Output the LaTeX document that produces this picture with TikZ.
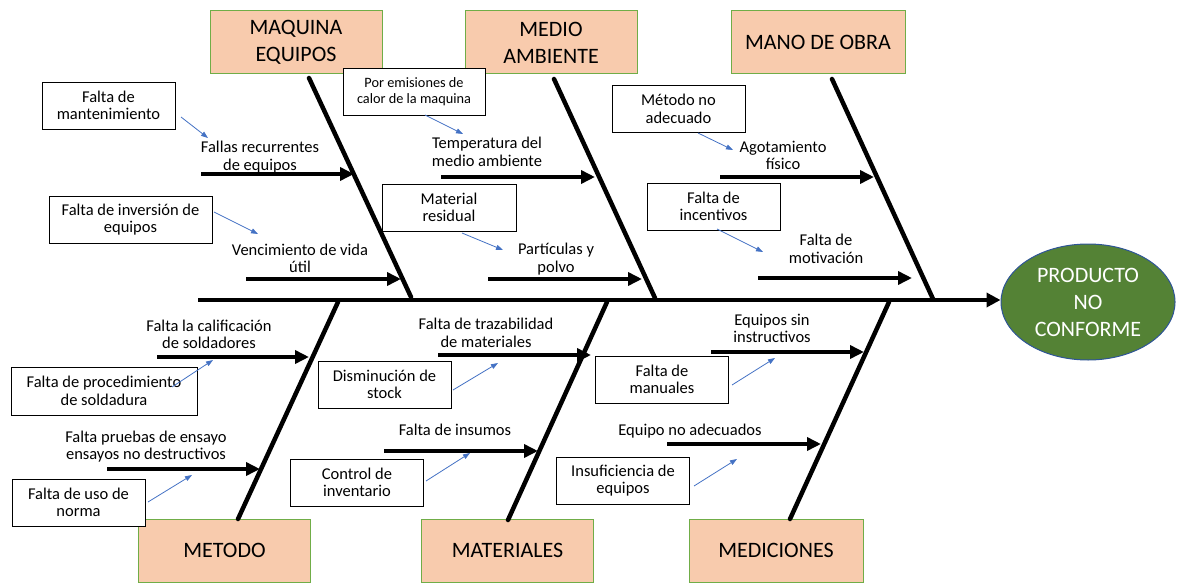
\documentclass[tikz,border=0pt]{standalone}
\usepackage{fontspec}
\setmainfont{Carlito}
\usetikzlibrary{arrows.meta,shapes.geometric}
\definecolor{peach}{HTML}{F8CBAD}
\definecolor{catborder}{HTML}{70AD47}
\definecolor{effgreen}{HTML}{548235}
\definecolor{effborder}{HTML}{2F5597}
\definecolor{linkblue}{HTML}{4472C4}
\tikzset{
  catbox/.style={draw=catborder, fill=peach, line width=1pt, inner sep=0pt, align=center,
     font=\fontsize{22}{27}\selectfont},
  causebox/.style={draw=black, fill=white, line width=0.9pt, inner sep=0pt, align=center,
     minimum width=133, minimum height=47, font=\fontsize{16.5}{17.5}\selectfont},
  smallbox/.style={causebox, font=\fontsize{14.3}{16}\selectfont},
  lbl/.style={inner sep=0pt, align=center, font=\fontsize{16.5}{17.5}\selectfont},
  bone/.style={line width=4.5pt, line cap=round},
  subarrow/.style={line width=4pt, -{Triangle[length=14pt,width=13pt]}},
  spinearrow/.style={line width=4pt, -{Triangle[length=14pt,width=14pt]}},
  link/.style={draw=linkblue, line width=0.8pt, -{Triangle[length=7pt,width=5pt]}},
  effect/.style={ellipse, draw=effborder, fill=effgreen, line width=1pt, text=white,
     minimum width=174, minimum height=116, inner sep=0pt, align=center,
     font=\fontsize{22}{27}\selectfont}
}
\begin{document}
\begin{tikzpicture}[x=1pt,y=-1pt]
\useasboundingbox (0,0) rectangle (1182,583);

% category boxes
\node[catbox, minimum width=172, minimum height=63] (maq) at (296,42.5) {MAQUINA\\EQUIPOS};
\node[catbox, minimum width=172, minimum height=63] (med) at (551,42.5) {MEDIO\\AMBIENTE};
\node[catbox, minimum width=174, minimum height=63] (man) at (818,42.5) {MANO DE OBRA};
\node[catbox, minimum width=172, minimum height=63] (met) at (224.5,550.5) {METODO};
\node[catbox, minimum width=172, minimum height=63] (mat) at (507.5,550.5) {MATERIALES};
\node[catbox, minimum width=174, minimum height=63] (medi) at (776,550.5) {MEDICIONES};

% effect
\node[effect] (eff) at (1088,302) {PRODUCTO\\NO\\CONFORME};

% spine
\coordinate (sp0) at (198,300);
\draw[spinearrow] (sp0) -- (eff.west |- sp0);

% bones
\coordinate (t1a) at (309,78);  \coordinate (t1b) at (411,297);
\coordinate (t2a) at (554,79);  \coordinate (t2b) at (655,298);
\coordinate (t3a) at (832,79);  \coordinate (t3b) at (933,299);
\coordinate (b1a) at (338,302); \coordinate (b1b) at (238,519);
\coordinate (b2a) at (607,302); \coordinate (b2b) at (508,520);
\coordinate (b3a) at (889,302); \coordinate (b3b) at (790,519);
\draw[bone] (t1a) -- (t1b);
\draw[bone] (t2a) -- (t2b);
\draw[bone] (t3a) -- (t3b);
\draw[bone] (b1a) -- (b1b);
\draw[bone] (b2a) -- (b2b);
\draw[bone] (b3a) -- (b3b);

% sub-cause arrows
\coordinate (s1a) at (201,174); \coordinate (s1b) at (354,174);
\coordinate (s2a) at (246,279); \coordinate (s2b) at (401,279);
\coordinate (s3a) at (441,177); \coordinate (s3b) at (595,177);
\coordinate (s4a) at (488,279); \coordinate (s4b) at (642,279);
\coordinate (s5a) at (720,177); \coordinate (s5b) at (874,177);
\coordinate (s6a) at (758,278); \coordinate (s6b) at (912,278);
\coordinate (s7a) at (157,357); \coordinate (s7b) at (309,357);
\coordinate (s8a) at (107,469); \coordinate (s8b) at (260,469);
\coordinate (s9a) at (438,355); \coordinate (s9b) at (591,355);
\coordinate (s10a) at (384,451); \coordinate (s10b) at (538,451);
\coordinate (s11a) at (711,352); \coordinate (s11b) at (864,352);
\coordinate (s12a) at (667,444); \coordinate (s12b) at (821,444);
\foreach \i in {1,...,12} {\draw[subarrow] (s\i a) -- (s\i b);}

% sub-cause labels
\node[lbl] (l1) at (260,157) {Fallas recurrentes\\de equipos};
\node[lbl] (l2) at (300,258.5) {Vencimiento de vida\\útil};
\node[lbl] (l3) at (487,152) {Temperatura del\\medio ambiente};
\node[lbl] (l4) at (556,259) {Partículas y\\polvo};
\node[lbl] (l5) at (783,155.5) {Agotamiento\\físico};
\node[lbl] (l6) at (826,249) {Falta de\\motivación};
\node[lbl] (l7) at (209,334.5) {Falta la calificación\\de soldadores};
\node[lbl] (l8) at (146,446.5) {Falta pruebas de ensayo\\ensayos no destructivos};
\node[lbl] (l9) at (486,333) {Falta de trazabilidad\\de materiales};
\node[lbl] (l10) at (455,430) {Falta de insumos};
\node[lbl] (l11) at (772,328.5) {Equipos sin\\instructivos};
\node[lbl] (l12) at (690,431) {Equipo no adecuados};

% root-cause boxes
\node[causebox] (r1) at (108.5,105.5) {Falta de\\mantenimiento};
\node[causebox, minimum width=163] (r2) at (130.5,219.5) {Falta de inversión de\\equipos};
\node[smallbox, minimum width=142] (r3) at (414,91.5) {Por emisiones de\\calor de la maquina};
\node[causebox, minimum width=134] (r4) at (449,207.5) {Material\\residual};
\node[causebox] (r5) at (678.5,109) {Método no\\adecuado};
\node[causebox] (r6) at (713.5,206.5) {Falta de\\incentivos};
\node[causebox, minimum width=186, minimum height=48] (r7) at (104,391) {Falta de procedimiento\\de soldadura};
\node[causebox] (r8) at (78.5,502.5) {Falta de uso de\\norma};
\node[causebox] (r9) at (384.5,384.5) {Disminución de\\stock};
\node[causebox] (r10) at (357,482.5) {Control de\\inventario};
\node[causebox] (r11) at (662,379.5) {Falta de\\manuales};
\node[causebox] (r12) at (623,480.5) {Insuficiencia de\\equipos};

% blue links
\coordinate (k1a) at (181,117);  \coordinate (k1b) at (208,138);
\coordinate (k2a) at (214,212);  \coordinate (k2b) at (258,234);
\coordinate (k3a) at (425,115);  \coordinate (k3b) at (463,134);
\coordinate (k4a) at (462,233);  \coordinate (k4b) at (503,250);
\coordinate (k5a) at (698,133);  \coordinate (k5b) at (733,150);
\coordinate (k6a) at (717,229);  \coordinate (k6b) at (763,252);
\coordinate (k7a) at (172,387);  \coordinate (k7b) at (213,360);
\coordinate (k8a) at (148,502);  \coordinate (k8b) at (192,475);
\coordinate (k9a) at (453,390);  \coordinate (k9b) at (498,363);
\coordinate (k10a) at (426,481); \coordinate (k10b) at (470,453);
\coordinate (k11a) at (732,385); \coordinate (k11b) at (775,358);
\coordinate (k12a) at (694,486); \coordinate (k12b) at (737,459);
\foreach \i in {1,...,12} {\draw[link] (k\i a) -- (k\i b);}
\end{tikzpicture}
\end{document}
